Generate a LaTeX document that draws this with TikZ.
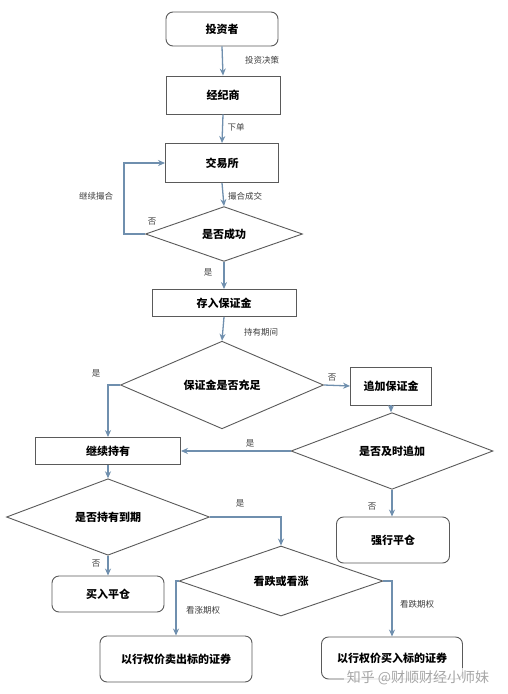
\documentclass[tikz,border=0pt]{standalone}
\usepackage{fontspec}
\setmainfont{Noto Sans CJK SC}
\usetikzlibrary{shapes.geometric,arrows.meta}
\definecolor{arr}{HTML}{6F8FAE}
\definecolor{bord}{HTML}{5A5A5A}
\tikzset{
  box/.style={draw=bord,line width=0.9pt,rectangle,inner sep=0pt,font=\fontsize{11}{13}\selectfont\bfseries},
  rbox/.style={box,rounded corners=7pt},
  dia/.style={draw=bord,line width=0.9pt,diamond,inner sep=0pt,font=\fontsize{11}{13}\selectfont\bfseries},
  conn/.style={draw=arr,line width=1.3pt,-{Stealth[length=7pt,width=6pt]}},
  lbl/.style={font=\fontsize{8.5}{10}\selectfont,text=black!75},
}
\begin{document}
\begin{tikzpicture}[x=1pt,y=-1pt]
\useasboundingbox[fill=white] (0,0) rectangle (508,694);
\node[rbox,minimum width=112pt,minimum height=34pt] (inv) at (222,29) {投资者};
\node[box,minimum width=114pt,minimum height=38pt] (brk) at (223,95) {经纪商};
\node[box,minimum width=113pt,minimum height=39pt] (exc) at (222,163) {交易所};
\node[dia,minimum width=157pt,minimum height=44pt] (d1) at (224,234) {是否成功};
\node[box,minimum width=144pt,minimum height=27pt] (dep) at (224,303) {存入保证金};
\node[dia,minimum width=203pt,minimum height=70pt] (d2) at (222,385) {保证金是否充足};
\node[box,minimum width=81pt,minimum height=38pt] (add) at (391,386) {追加保证金};
\node[dia,minimum width=202pt,minimum height=70pt] (d3) at (392,451) {是否及时追加};
\node[box,minimum width=145pt,minimum height=27pt] (hold) at (108,451) {继续持有};
\node[rbox,minimum width=113pt,minimum height=46pt] (force) at (393,540) {强行平仓};
\node[dia,minimum width=203pt,minimum height=70pt] (d4) at (108,517) {是否持有到期};
\node[rbox,minimum width=112pt,minimum height=36pt] (close) at (108,594) {买入平仓};
\node[dia,minimum width=204pt,minimum height=70pt] (d5) at (281,581) {看跌或看涨};
\node[rbox,minimum width=152pt,minimum height=46pt] (sell) at (176,659) {以行权价卖出标的证券};
\node[rbox,minimum width=141pt,minimum height=42pt] (buy) at (392,658) {以行权价买入标的证券};

\draw[conn] (inv.south) -- (brk.north);
\draw[conn] (brk.south) -- (exc.north);
\draw[conn] (exc.south) -- (d1.north);
\draw[conn] (d1.west) -- ++(-21,0) |- (exc.west);
\draw[conn] (d1.south) -- (dep.north);
\draw[conn] (dep.south) -- (d2.north);
\draw[conn] (d2.east) -- (add.west);
\draw[conn] (add.south) -- (add.south |- d3.north);
\draw[conn] (d3.west) -- (hold.east);
\draw[conn] (d2.west) -| (hold.north);
\draw[conn] (hold.south) -- (d4.north);
\draw[conn] (d4.south) -- (close.north);
\draw[conn] (d4.east) -| (d5.north);
\draw[conn] (d3.south) -- (d3.south |- force.north);
\draw[conn] (d5.west) -| (sell.north);
\draw[conn] (d5.east) -| (buy.north);

\node[lbl] (l1) at (262,60) {投资决策};
\node[lbl] (l2) at (236,127) {下单};
\node[lbl] (l3) at (245,196) {撮合成交};
\node[lbl] (l4) at (96,196) {继续撮合};
\node[lbl] (l5) at (152,222) {否};
\node[lbl] (l6) at (208,272) {是};
\node[lbl] (l7) at (261,332) {持有期间};
\node[lbl] (l8) at (332,378) {否};
\node[lbl] (l9) at (96,373) {是};
\node[lbl] (l10) at (250,443) {是};
\node[lbl] (l11) at (372,507) {否};
\node[lbl] (l12) at (96,564) {否};
\node[lbl] (l13) at (240,503) {是};
\node[lbl] (l14) at (203,610) {看涨期权};
\node[lbl] (l15) at (417,604) {看跌期权};
\node[font=\fontsize{14}{16}\selectfont,text=black!35,fill=white,fill opacity=0.75,text opacity=1,inner sep=3pt] (wm) at (418,678) {知乎 @财顺财经小师妹};
\end{tikzpicture}
\end{document}
